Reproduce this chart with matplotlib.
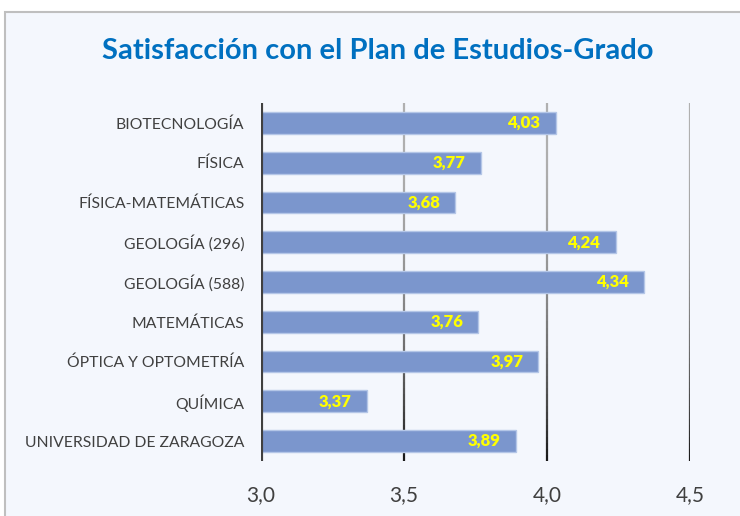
import numpy as np
import matplotlib
matplotlib.use("Agg")
import matplotlib.pyplot as plt
from matplotlib.patches import Rectangle
from matplotlib.collections import LineCollection
from matplotlib.colors import to_rgb

plt.rcParams["font.family"] = ["Lato", "DejaVu Sans"]

categories = ["BIOTECNOLOGÍA", "FÍSICA", "FÍSICA-MATEMÁTICAS", "GEOLOGÍA (296)",
              "GEOLOGÍA (588)", "MATEMÁTICAS", "ÓPTICA Y OPTOMETRÍA", "QUÍMICA",
              "UNIVERSIDAD DE ZARAGOZA"]
values = [4.03, 3.77, 3.68, 4.24, 4.34, 3.76, 3.97, 3.37, 3.89]
xticks = [3.0, 3.5, 4.0, 4.5]
xticklabels = ["3,0", "3,5", "4,0", "4,5"]
title = "Satisfacción con el Plan de Estudios-Grado"

bg = "#f4f7fd"
fig = plt.figure(figsize=(7.4, 5.16), dpi=100)
fig.patch.set_facecolor("white")
# chart area panel with border
fig.patches.append(Rectangle((5/740, -0.05), 1.0, 1 - 12/516 + 0.05, transform=fig.transFigure,
                             facecolor=bg, edgecolor="#bfbfbf", linewidth=1.5, zorder=-5))

ax = fig.add_axes([261/740, 1 - 461/516, 429/740, 358/516])
ax.set_facecolor("none")

y = np.arange(len(categories))
ax.barh(y, np.array(values) - 3.0, left=3.0, height=0.55, color="#7b96cd",
        edgecolor="#b4c6e7", linewidth=1, zorder=3)

for yi, v in zip(y, values):
    ax.annotate(f"{v:.2f}".replace(".", ","), xy=(v, yi), xytext=(-11, 0),
                textcoords="offset points", ha="right", va="center",
                color="#ffff00", fontsize=12, fontweight="heavy", zorder=4)

ax.set_xlim(3.0, 4.5)
ax.set_ylim(len(categories) - 0.5, -0.5)
ax.set_yticks(y)
ax.set_yticklabels(categories, fontsize=11.3, color="#404040")
ax.set_xticks(xticks)
ax.set_xticklabels(xticklabels, fontsize=15, color="#404040")
ax.tick_params(axis="both", length=0)
ax.tick_params(axis="y", pad=12)
ax.tick_params(axis="x", pad=17)
for s in ax.spines.values():
    s.set_visible(False)

# gradient gridlines (gray at top, darker toward the bottom)
top_c = np.array(to_rgb("#b0b0b0"))
bot_c = np.array(to_rgb("#1a1a1a"))
ys = np.linspace(-0.5, len(categories) - 0.5, 60)
for xt in xticks[1:]:
    segs = [[(xt, ys[i]), (xt, ys[i + 1])] for i in range(len(ys) - 1)]
    t = np.linspace(0, 1, len(segs)) ** 2.2
    cols = [tuple(top_c * (1 - ti) + bot_c * ti) for ti in t]
    ax.add_collection(LineCollection(segs, colors=cols, linewidths=1.6, zorder=1))

ax.axvline(3.0, color="#404040", linewidth=3, zorder=5)

fig.text(0.510, 1 - 51/516, title, ha="center", va="center", fontsize=21,
         fontweight="bold", color="#0070c0")

fig.savefig("out.png", dpi=100)
